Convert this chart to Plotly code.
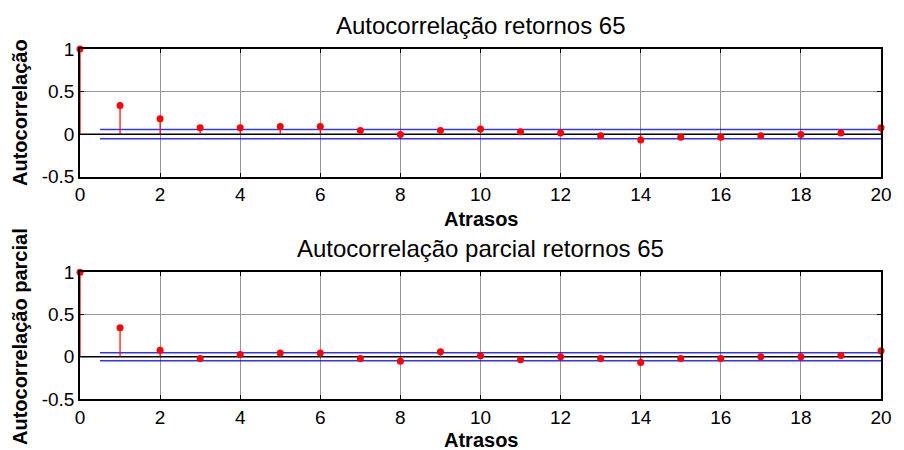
import plotly.graph_objects as go

lags = list(range(21))
acf = [1.0, 0.337, 0.18, 0.075, 0.075, 0.09, 0.09, 0.043, -0.005, 0.043, 0.06,
       0.028, 0.012, -0.02, -0.068, -0.036, -0.036, -0.02, -0.005, 0.012, 0.075]
pacf = [1.0, 0.344, 0.076, -0.02, 0.028, 0.044, 0.044, -0.02, -0.052, 0.06, 0.012,
        -0.036, 0.0, -0.02, -0.068, -0.02, -0.02, 0.0, 0.0, 0.016, 0.072]
acf_bound = 0.055
pacf_bound = 0.048
bound_start = 0.5
x_ticks = list(range(0, 21, 2))
y_ticks = [-0.5, 0, 0.5, 1]
y_ticktext = ["-0.5", "0", "0.5", "1"]
titles = ["Autocorrelação retornos 65", "Autocorrelação parcial retornos 65"]
ylabels = ["Autocorrelação", "Autocorrelação parcial"]
xlabel = "Atrasos"

W, H = 904, 450
ml, mr, mt, mb = 80, 16, 49, 51
ph = H - mt - mb


def py(px):
    return (H - mb - px) / ph


fig = go.Figure()
font = "Liberation Sans, Arial, sans-serif"

for i, (vals, bnd) in enumerate([(acf, acf_bound), (pacf, pacf_bound)]):
    xa = "x" if i == 0 else "x2"
    ya = "y" if i == 0 else "y2"
    # zero baseline
    fig.add_trace(go.Scatter(x=[lags[0], lags[-1]], y=[0, 0], mode="lines",
                             line=dict(color="black", width=1.5), xaxis=xa, yaxis=ya,
                             showlegend=False, hoverinfo="skip"))
    # confidence bounds
    for s in (1, -1):
        fig.add_trace(go.Scatter(x=[bound_start, lags[-1]], y=[s * bnd, s * bnd], mode="lines",
                                 line=dict(color="rgba(0,0,255,0.8)", width=1.5),
                                 xaxis=xa, yaxis=ya, showlegend=False, hoverinfo="skip"))
    # stems
    sx, sy = [], []
    for l, v in zip(lags, vals):
        sx += [l, l, None]
        sy += [0, v, None]
    fig.add_trace(go.Scatter(x=sx, y=sy, mode="lines", line=dict(color="red", width=1.2),
                             xaxis=xa, yaxis=ya, showlegend=False, hoverinfo="skip",
                             cliponaxis=False))
    fig.add_trace(go.Scatter(x=lags, y=vals, mode="markers",
                             marker=dict(color="red", size=7, line=dict(width=0)),
                             xaxis=xa, yaxis=ya, showlegend=False, cliponaxis=False))

axis_common = dict(showline=True, linecolor="black", linewidth=1.5, mirror="ticks",
                   ticks="inside", ticklen=4, tickcolor="black", tickwidth=1,
                   showgrid=True, gridcolor="#969696", gridwidth=1, zeroline=False,
                   tickfont=dict(family=font, size=19, color="black"))

top_dom = [py(176.7), 1.0]
bot_dom = [0.0, py(272.3)]

fig.update_layout(
    width=W, height=H, margin=dict(l=ml, r=mr, t=mt, b=mb),
    paper_bgcolor="white", plot_bgcolor="white",
    xaxis=dict(axis_common, range=[0, 20], tickvals=x_ticks, anchor="y", domain=[0, 1]),
    yaxis=dict(axis_common, range=[-0.5, 1], tickvals=y_ticks, ticktext=y_ticktext,
               domain=top_dom, anchor="x"),
    xaxis2=dict(axis_common, range=[0, 20], tickvals=x_ticks, anchor="y2", domain=[0, 1]),
    yaxis2=dict(axis_common, range=[-0.5, 1], tickvals=y_ticks, ticktext=y_ticktext,
                domain=bot_dom, anchor="x2"),
)

ann = []
ann.append(dict(text=titles[0], x=0.5, y=py(25), xref="paper", yref="paper", showarrow=False,
                xanchor="center", yanchor="middle", font=dict(family=font, size=24, color="black")))
ann.append(dict(text=titles[1], x=0.5, y=py(248.5), xref="paper", yref="paper", showarrow=False,
                xanchor="center", yanchor="middle", font=dict(family=font, size=24, color="black")))
for ypx in (218.5, 440):
    ann.append(dict(text="<b>%s</b>" % xlabel, x=0.5, y=py(ypx), xref="paper", yref="paper",
                    showarrow=False, xanchor="center", yanchor="middle",
                    font=dict(family=font, size=20, color="black")))
for lab, ypx in zip(ylabels, (113, 337)):
    ann.append(dict(text="<b>%s</b>" % lab, x=(19.5 - ml) / (W - ml - mr), y=py(ypx),
                    xref="paper", yref="paper", showarrow=False, textangle=-90,
                    xanchor="center", yanchor="middle",
                    font=dict(family=font, size=20, color="black")))
fig.update_layout(annotations=ann)

fig.write_html("out.html")
